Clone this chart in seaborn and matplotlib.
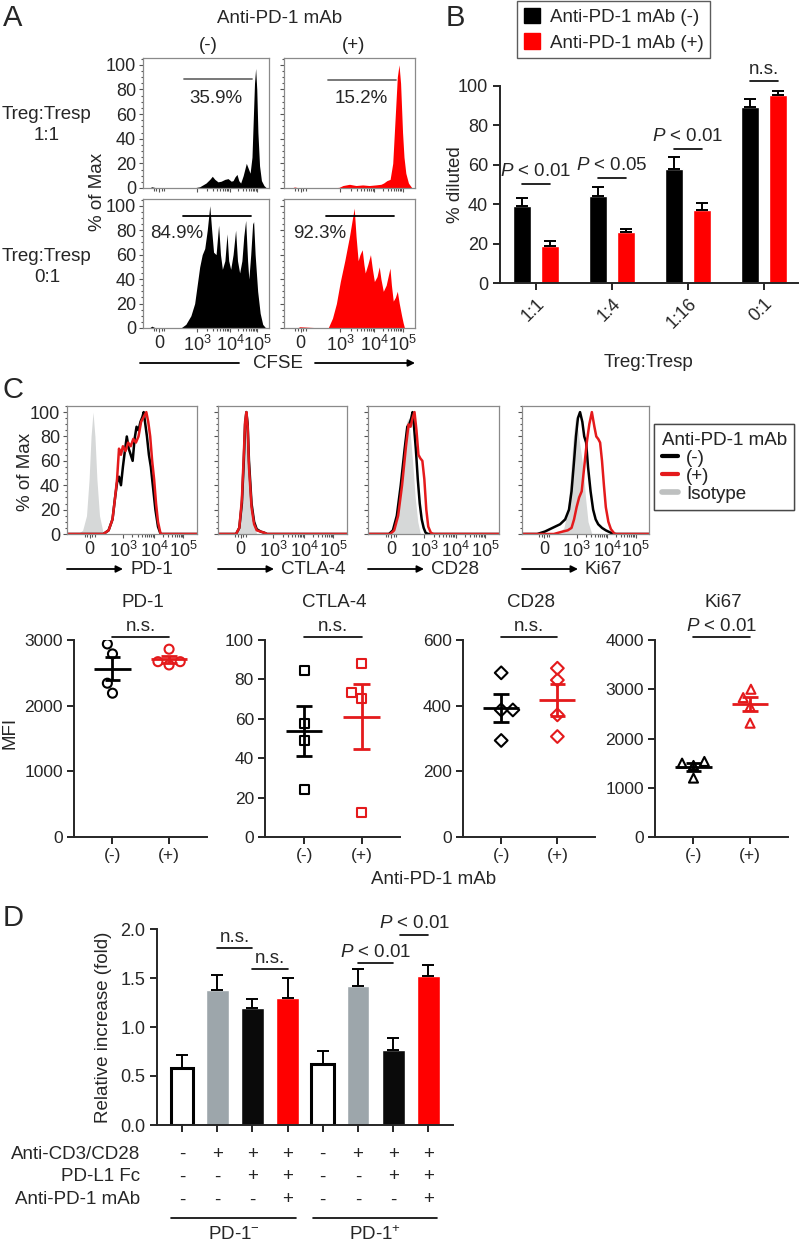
import numpy as np
import pandas as pd
import matplotlib
matplotlib.use("Agg")
import matplotlib.pyplot as plt
import matplotlib.transforms as mtrans
from matplotlib.lines import Line2D
from matplotlib.patches import Patch
from matplotlib.ticker import FixedLocator, MultipleLocator
import seaborn as sns

# ======================= DATA =======================
# Panel A : CFSE histograms (x = channel position 0-100 across the plot, y = % of Max)
a_tl_x = [0, 5, 7, 9, 12, 40, 45, 50, 53, 55, 57, 59.5, 62, 65, 67.5, 70, 71.5, 73, 74.6, 76, 77.5,
          79.5, 82, 83.5, 85, 86.5, 87.5, 88.5, 89.4, 90.3, 91.2, 92.5, 94, 96, 98, 100]
a_tl_y = [0, 0, 1, 0.5, 0, 0, 1, 4, 7, 9.5, 7, 5, 5.5, 7, 7.6, 5.5, 6, 9, 11, 6, 4,
          10, 20, 16, 12, 25, 55, 85, 97, 80, 45, 18, 6, 2, 0, 0]
a_tr_x = [0, 6, 8, 10, 12, 35, 42, 45, 50, 55, 60, 65, 70, 74, 76, 78.6, 81, 83, 85, 86.5, 87.8,
          89, 90.5, 91.6, 93, 95, 97.7, 100]
a_tr_y = [0, 0, 0.8, 0.4, 0, 0, 0.5, 2, 3, 2, 2.5, 2, 2.5, 3, 4, 6, 7, 20, 60, 90, 100,
          85, 45, 25, 12, 4, 0, 0]
a_bl_x = [0, 5, 7, 9, 12, 25, 30, 34, 38, 41, 43, 45, 47, 49, 51, 53, 54.5, 56, 58, 60, 61.5, 63,
          65, 66.7, 68, 69.6, 71.5, 73.5, 75, 76.7, 78.5, 80, 81.5, 83, 84, 85.5, 87, 87.8, 89,
          91, 93, 95, 97, 100]
a_bl_y = [0, 0, 1.5, 0.5, 0, 0, 0, 3, 10, 20, 35, 50, 60, 65, 80, 100, 80, 62, 60, 84, 60, 48,
          55, 77, 55, 48, 60, 80, 55, 45, 55, 75, 88, 55, 40, 60, 85, 87, 60,
          30, 12, 3, 0.5, 0]
a_br_x = [0, 10, 12, 30, 33.7, 37, 40, 43, 46.4, 50, 52, 53.6, 55, 56.6, 58, 59.7, 61, 62, 64, 66,
          67.5, 69, 71, 72.7, 74, 75.8, 78, 80.9, 82, 83.4, 85, 86.5, 88, 89.8, 91, 92, 94, 100]
a_br_y = [0, 0, 1, 0, 0, 8, 20, 38, 55, 75, 88, 98, 75, 55, 60, 64, 52, 45, 52, 60,
          48, 38, 42, 50, 40, 30, 35, 49, 35, 22, 25, 30, 20, 10, 4, 0, 0, 0]
a_gate_pct = ["35.9%", "15.2%", "84.9%", "92.3%"]

# Panel B : % diluted
b_ratios = ["1:1", "1:4", "1:16", "0:1"]
b_treat = ["Anti-PD-1 mAb (-)", "Anti-PD-1 mAb (+)"]
b_minus = [39.2, 44.2, 58.1, 89.5]
b_minus_err = [4.2, 4.6, 6.0, 4.1]
b_plus = [18.6, 25.9, 37.0, 95.4]
b_plus_err = [2.8, 1.7, 3.8, 2.1]
b_sig = [r"$P$ < 0.01", r"$P$ < 0.05", r"$P$ < 0.01", "n.s."]

# Panel C : histograms (channel position 0-100, % of Max)
c_names = ["PD-1", "CTLA-4", "CD28", "Ki67"]
pd1_iso_x = [0, 8, 12, 15, 17, 18.5, 20, 21.5, 23, 25, 28, 100]
pd1_iso_y = [0, 0, 3, 15, 45, 80, 100, 80, 45, 15, 0, 0]
pd1_neg_x = [0, 28, 32, 35, 37, 38.5, 40, 41.5, 43, 44.5, 46, 47.5, 49, 50.5, 52, 53.5, 55, 56.5,
             58, 59, 60, 61.5, 63, 64.5, 66, 68, 70, 72, 100]
pd1_neg_y = [0, 0, 3, 12, 30, 42, 47, 40, 55, 68, 80, 70, 65, 60, 78, 88, 85, 92,
             96, 100, 92, 80, 65, 55, 40, 20, 6, 0, 0]
pd1_pos_x = [0, 28, 32, 35, 37, 38.5, 40, 41.5, 43, 45, 47, 49, 51, 53, 55, 57, 59, 61, 62.5, 64,
             65.5, 67, 68.5, 70, 72, 100]
pd1_pos_y = [0, 0, 3, 12, 30, 45, 70, 65, 72, 68, 75, 72, 78, 75, 80, 92, 96, 100, 92, 80,
             60, 45, 25, 10, 0, 0]
ctla_iso_x = [0, 14, 17, 19, 21, 22, 23, 25, 27, 30, 100]
ctla_iso_y = [0, 0, 10, 40, 85, 95, 85, 40, 10, 0, 0]
ctla_neg_x = [0, 14, 16.5, 18.5, 20, 21, 22, 23, 24, 26, 28, 30, 33, 36, 38, 100]
ctla_neg_y = [0, 0, 5, 25, 60, 90, 100, 90, 60, 25, 10, 4, 2, 1, 0, 0]
ctla_pos_x = [0, 14, 16.5, 18.5, 20, 21, 22, 23, 24, 26, 28, 30, 33, 36, 38, 100]
ctla_pos_y = [0, 0, 5, 28, 65, 92, 100, 88, 55, 22, 8, 3, 2, 1, 0, 0]
cd28_iso_x = [0, 18, 22, 25, 27, 29, 30.5, 32, 34, 36, 38, 40, 100]
cd28_iso_y = [0, 0, 10, 40, 70, 90, 95, 85, 60, 30, 10, 0, 0]
cd28_neg_x = [0, 16, 19, 22, 25, 28, 30, 31.5, 33, 34, 35, 36.5, 38, 39.5, 41, 42.5, 44, 46, 100]
cd28_neg_y = [0, 0, 3, 15, 40, 70, 88, 90, 95, 100, 90, 70, 45, 25, 12, 5, 1, 0, 0]
cd28_pos_x = [0, 17, 20, 23, 26, 29, 31, 32.5, 34, 35.5, 37, 38.5, 40, 41.5, 43, 44.5, 46, 48, 50, 100]
cd28_pos_y = [0, 0, 3, 15, 40, 72, 90, 88, 95, 100, 85, 65, 62, 60, 45, 20, 6, 1, 0, 0]
ki67_iso_x = [0, 28, 33, 36, 38, 40, 42, 44, 46, 48, 50, 52, 55, 100]
ki67_iso_y = [0, 0, 5, 20, 45, 75, 95, 85, 70, 55, 30, 10, 0, 0]
ki67_neg_x = [0, 12, 18, 22, 26, 30, 34, 37, 39, 41, 42.5, 44, 45.7, 47.5, 49, 50.5, 52, 54, 56,
              58, 60, 63, 66, 70, 74, 100]
ki67_neg_y = [0, 0, 2, 4, 6, 8, 12, 20, 35, 60, 80, 95, 100, 92, 80, 75, 55, 35, 20,
              12, 8, 5, 3, 1, 0, 0]
ki67_pos_x = [0, 25, 32, 36, 39, 41, 43, 45, 47, 49, 51, 53, 55, 57, 58.5, 60, 61.5, 63, 64.5, 66,
              68, 70, 73, 100]
ki67_pos_y = [0, 0, 2, 3, 5, 12, 22, 30, 35, 55, 75, 90, 100, 88, 80, 78, 75, 60, 40, 22,
              10, 4, 0, 0]

# Panel C : MFI dot plots
pd1_minus = [2940, 2788, 2342, 2190]
pd1_plus = [2860, 2670, 2620, 2670]
ctla4_minus = [84.5, 57.8, 49.0, 24.0]
ctla4_plus = [88.2, 73.3, 70.3, 12.5]
cd28_minus = [500, 387, 387, 294]
cd28_plus = [514, 478, 372, 306]
ki67_minus = [1500, 1453, 1534, 1196]
ki67_plus = [3000, 2831, 2649, 2311]
dot_groups = ["(-)", "(+)"]
dot_sig = ["n.s.", "n.s.", "n.s.", r"$P$ < 0.01"]

# Panel D : relative increase
d_conds = ["c1", "c2", "c3", "c4", "c5", "c6", "c7", "c8"]
d_vals = [0.585, 1.378, 1.197, 1.296, 0.622, 1.418, 0.762, 1.517]
d_err = [0.129, 0.152, 0.089, 0.201, 0.136, 0.170, 0.129, 0.119]
d_cd3 = ["-", "+", "+", "+", "-", "+", "+", "+"]
d_pdl1 = ["-", "-", "+", "+", "-", "-", "+", "+"]
d_antipd1 = ["-", "-", "-", "+", "-", "-", "-", "+"]
d_rows = ["Anti-CD3/CD28", "PD-L1 Fc", "Anti-PD-1 mAb"]
d_groups = ["PD-1$^{-}$", "PD-1$^{+}$"]

# ======================= STYLE =======================
sns.set_style("ticks")
plt.rcParams["font.family"] = ["Liberation Sans", "DejaVu Sans"]
plt.rcParams["mathtext.fontset"] = "custom"
plt.rcParams["mathtext.rm"] = "Liberation Sans"
plt.rcParams["mathtext.it"] = "Liberation Sans:italic"
plt.rcParams["mathtext.bf"] = "Liberation Sans:bold"
plt.rcParams["axes.linewidth"] = 1.4

BLACK = "#000000"
RED = "#FF0000"
RED_C = "#E41A1C"
GRAY_FILL = "#D6D8D8"
GRAY_BAR = "#9DA6AB"
FS = 13.5
TFS = 13

W, H = 802, 1249
fig = plt.figure(figsize=(W / 100, H / 100), dpi=100)


def add_ax(x0, y0, x1, y1):
    return fig.add_axes([x0 / W, 1 - y1 / H, (x1 - x0) / W, (y1 - y0) / H])


ov = fig.add_axes([0, 0, 1, 1])
ov.set_xlim(0, W)
ov.set_ylim(H, 0)
ov.axis("off")


def txt(x, y, s, **kw):
    kw.setdefault("fontsize", FS)
    kw.setdefault("ha", "center")
    kw.setdefault("va", "center")
    ov.text(x, y, s, **kw)


def arrow(x0, x1, y):
    ov.annotate("", xy=(x1, y), xytext=(x0, y),
                arrowprops=dict(arrowstyle="-|>", lw=1.3, color="black",
                                mutation_scale=10, shrinkA=0, shrinkB=0))


flow_labels = ["0", "$10^3$", "$10^4$", "$10^5$"]


def flow_axes(rect, xt, ylab, xlab):
    ax = add_ax(*rect)
    ax.set_xlim(0, 100)
    ax.set_ylim(0, 105.5)
    for s in ax.spines.values():
        s.set_visible(True)
        s.set_color("#8a8a8a")
        s.set_linewidth(0.9)
    ax.set_xticks(xt)
    ax.set_xticklabels(flow_labels if xlab else [])
    minors = [xt[0] - 4, xt[0] - 2, xt[0] + 2, xt[0] + 4]
    for a, b in [(xt[1], xt[2]), (xt[2], xt[3])]:
        minors += [a + (b - a) * np.log10(k) for k in range(2, 10)]
    ax.xaxis.set_minor_locator(FixedLocator(minors))
    ax.set_yticks(range(0, 101, 20))
    if not ylab:
        ax.set_yticklabels([])
    ax.yaxis.set_minor_locator(MultipleLocator(5))
    ax.tick_params(which="both", direction="out", length=3, width=0.8, color="#555555",
                   labelsize=TFS, pad=2)
    ax.tick_params(which="minor", length=1.8)
    return ax


# ======================= PANEL A =======================
a_xt = [12.7, 43, 69, 90.5]
a_rects = [(143, 58, 269, 188), (284, 58, 415, 188), (143, 199, 269, 328), (284, 199, 415, 328)]
a_data = [(a_tl_x, a_tl_y, BLACK), (a_tr_x, a_tr_y, RED), (a_bl_x, a_bl_y, BLACK), (a_br_x, a_br_y, RED)]
a_gate = [(32.5, 86.5, 88.6, 58, 72.4, "#6d6d6d"), (33.6, 85.5, 87.8, 58.8, 72.4, "#6d6d6d"),
          (31.7, 85.7, 91.8, 27, 77, BLACK), (32, 84, 91.8, 27.5, 77, BLACK)]
for i, (rect, (hx, hy, col), g) in enumerate(zip(a_rects, a_data, a_gate)):
    ax = flow_axes(rect, a_xt, ylab=(i % 2 == 0), xlab=(i >= 2))
    ax.fill_between(hx, hy, 0, color=col, lw=0)
    ax.plot([g[0], g[1]], [g[2], g[2]], color=g[5], lw=1.3)
    ax.text(g[3], g[4], a_gate_pct[i], fontsize=FS, ha="center", va="center")

txt(13, 18, "A", fontsize=21)
txt(280, 18, "Anti-PD-1 mAb")
txt(208, 45, "(-)")
txt(354, 45, "(+)")
txt(47, 125, "Treg:Tresp\n1:1", linespacing=1.25)
txt(47, 267, "Treg:Tresp\n0:1", linespacing=1.25)
txt(97, 192, "% of Max", rotation=90)
txt(278, 363, "CFSE")
ov.plot([140, 239], [363, 363], color="black", lw=1.3)
arrow(315, 415, 363)

# ======================= PANEL B =======================
axB = add_ax(500, 86, 798, 283)
dfB = pd.DataFrame({
    "ratio": b_ratios * 2,
    "treat": [b_treat[0]] * 4 + [b_treat[1]] * 4,
    "val": b_minus + b_plus,
})
sns.barplot(data=dfB, x="ratio", y="val", hue="treat", order=b_ratios, hue_order=b_treat,
            palette=[BLACK, RED], width=0.74, gap=0.35, errorbar=None, legend=False,
            saturation=1, ax=axB)
bar_x = {}
for cont, errs, col in zip(axB.containers, [b_minus_err, b_plus_err], [BLACK, RED]):
    xs = [b.get_x() + b.get_width() / 2 for b in cont]
    hs = [b.get_height() for b in cont]
    bar_x[col] = xs
    axB.errorbar(xs, hs, yerr=[np.zeros(len(errs)), errs], fmt="none", ecolor="black",
                 elinewidth=1.4, capsize=4.5, capthick=1.4, zorder=3)
b_line_y = [50.3, 53.3, 68.0, 102.5]
b_text_y = [56.5, 59.8, 74.5, 108.5]
for i in range(4):
    x0, x1 = bar_x[BLACK][i], bar_x[RED][i]
    axB.plot([x0, x1], [b_line_y[i]] * 2, color="black", lw=1.2, clip_on=False)
    axB.text((x0 + x1) / 2, b_text_y[i], b_sig[i], fontsize=FS, ha="center", va="center",
             clip_on=False)
axB.set_xlim(-0.47, 3.45)
axB.set_ylim(0, 100)
axB.set_yticks(range(0, 101, 20))
axB.set_xlabel("")
axB.set_ylabel("")
axB.set_xticks(range(4))
axB.set_xticklabels(b_ratios, rotation=45, ha="right", rotation_mode="anchor")
axB.tick_params(labelsize=TFS, width=1.4, length=5)
sns.despine(ax=axB)
txt(455, 18, "B", fontsize=21)
txt(455, 185, "% diluted", rotation=90)
txt(649, 362, "Treg:Tresp")
legB = ov.legend(handles=[Patch(color=BLACK), Patch(color=RED)], labels=b_treat,
                 loc="upper left", bbox_to_anchor=(517, 1), bbox_transform=ov.transData,
                 frameon=True, fancybox=False, edgecolor="#333333", fontsize=FS,
                 handlelength=0.9, handleheight=0.9, handletextpad=0.5, borderpad=0.35,
                 labelspacing=0.4, borderaxespad=0)
legB.get_frame().set_linewidth(1.0)
ov.add_artist(legB)

# ======================= PANEL C histograms =======================
c_xt = [17.5, 43, 67, 89.5]
c_rects = [(67, 406, 197, 534), (218, 406, 347, 534), (368, 406, 499, 534), (522, 406, 649, 534)]
c_hist = [
    (pd1_iso_x, pd1_iso_y, pd1_neg_x, pd1_neg_y, pd1_pos_x, pd1_pos_y),
    (ctla_iso_x, ctla_iso_y, ctla_neg_x, ctla_neg_y, ctla_pos_x, ctla_pos_y),
    (cd28_iso_x, cd28_iso_y, cd28_neg_x, cd28_neg_y, cd28_pos_x, cd28_pos_y),
    (ki67_iso_x, ki67_iso_y, ki67_neg_x, ki67_neg_y, ki67_pos_x, ki67_pos_y),
]
for i, (rect, h) in enumerate(zip(c_rects, c_hist)):
    ax = flow_axes(rect, c_xt, ylab=(i == 0), xlab=True)
    ax.set_ylim(0, 105)
    ax.fill_between(h[0], h[1], 0, color=GRAY_FILL, lw=0)
    ax.plot(h[2], h[3], color=BLACK, lw=1.8)
    ax.plot(h[4], h[5], color=RED_C, lw=1.8)
    x0 = rect[0]
    arrow(x0, x0 + 56, 569)
    txt(x0 + 63, 569, c_names[i], ha="left")

txt(13, 390, "C", fontsize=21)
txt(25, 472, "% of Max", rotation=90)
legC = ov.legend(handles=[Line2D([], [], color=BLACK, lw=3), Line2D([], [], color=RED_C, lw=3),
                          Line2D([], [], color="#BEC0C0", lw=4)],
                 labels=["(-)", "(+)", "Isotype"], title="Anti-PD-1 mAb",
                 loc="upper left", bbox_to_anchor=(654, 424), bbox_transform=ov.transData,
                 frameon=True, fancybox=False, edgecolor="#333333", fontsize=FS,
                 title_fontsize=FS, handlelength=0.9, handletextpad=0.4, borderpad=0.4,
                 labelspacing=0.05, borderaxespad=0, alignment="left")
legC.get_frame().set_linewidth(1.0)
ov.add_artist(legC)

# ======================= PANEL C dot plots =======================
dot_rects = [(74, 640, 207, 837), (265, 640, 400, 837), (463, 640, 595, 837), (655, 640, 788, 837)]
dot_data = [(pd1_minus, pd1_plus), (ctla4_minus, ctla4_plus), (cd28_minus, cd28_plus),
            (ki67_minus, ki67_plus)]
dot_markers = ["o", "s", "D", "^"]
dot_ymax = [3000, 100, 600, 4000]
dot_ystep = [1000, 20, 200, 1000]
for i, rect in enumerate(dot_rects):
    ax = add_ax(*rect)
    mn, pl = dot_data[i]
    df = pd.DataFrame({"grp": [dot_groups[0]] * len(mn) + [dot_groups[1]] * len(pl),
                       "val": mn + pl})
    sns.swarmplot(data=df, x="grp", y="val", hue="grp", order=dot_groups, hue_order=dot_groups,
                  palette=[BLACK, RED_C], marker=dot_markers[i], size=6.5, linewidth=1.5,
                  legend=False, ax=ax)
    for c in ax.collections:
        fc = np.array(c.get_facecolor())
        c.set_edgecolor(fc)
        c.set_facecolor("none")
        c.set_linewidth(1.5)
    for j, (vals, col) in enumerate([(mn, BLACK), (pl, RED_C)]):
        m = np.mean(vals)
        s = np.std(vals, ddof=1) / np.sqrt(len(vals))
        ax.hlines(m, j - 0.32, j + 0.32, color=col, lw=2, zorder=5)
        ax.vlines(j, m - s, m + s, color=col, lw=2, zorder=5)
        ax.hlines([m - s, m + s], j - 0.14, j + 0.14, color=col, lw=2, zorder=5)
    ymax = dot_ymax[i]
    ax.set_ylim(0, ymax)
    ax.set_yticks(np.arange(0, ymax + 1, dot_ystep[i]))
    ax.set_xlim(-0.68, 1.67)
    ax.set_xticks([0, 1])
    ax.set_xticklabels(dot_groups)
    ax.set_xlabel("")
    ax.set_ylabel("")
    ax.tick_params(labelsize=12.5, width=1.4, length=5, pad=3)
    sns.despine(ax=ax)
    ax.plot([0, 1], [ymax * 1.015] * 2, color="black", lw=1.2, clip_on=False)
    ax.text(0.5, ymax * 1.066, dot_sig[i], fontsize=FS, ha="center", va="center", clip_on=False)
    txt((rect[0] + rect[2]) / 2 + 2, 602, c_names[i])

txt(10, 733, "MFI", rotation=90)
txt(434, 879, "Anti-PD-1 mAb")

# ======================= PANEL D =======================
axD = add_ax(157, 929, 453, 1125)
dfD = pd.DataFrame({"cond": d_conds, "val": d_vals})
d_colors = ["#FFFFFF", GRAY_BAR, "#0A0A0A", RED, "#FFFFFF", GRAY_BAR, "#0A0A0A", RED]
sns.barplot(data=dfD, x="cond", y="val", hue="cond", order=d_conds, hue_order=d_conds,
            palette=d_colors, width=0.65, errorbar=None, legend=False, saturation=1, ax=axD)
dx = []
for p in axD.patches:
    dx.append(p.get_x() + p.get_width() / 2)
    if tuple(p.get_facecolor()[:3]) == (1.0, 1.0, 1.0):
        p.set_edgecolor("black")
        p.set_linewidth(2.2)
dx = sorted(dx)
axD.errorbar(dx, d_vals, yerr=[np.zeros(len(d_err)), d_err], fmt="none", ecolor="black",
             elinewidth=1.4, capsize=4.5, capthick=1.4, zorder=3)
axD.set_xlim(-0.71, 7.7)
axD.set_ylim(0, 2.0)
axD.set_yticks([0, 0.5, 1.0, 1.5, 2.0])
axD.set_yticklabels(["0.0", "0.5", "1.0", "1.5", "2.0"])
axD.set_xticks(range(8))
axD.set_xticklabels([])
axD.set_xlabel("")
axD.set_ylabel("")
axD.tick_params(labelsize=TFS, width=1.4, length=5)
sns.despine(ax=axD)
d_sig = [(1, 2, 1.806, 1.918, "n.s."), (2, 3, 1.592, 1.704, "n.s."),
         (5, 6, 1.653, 1.765, r"$P$ < 0.01"), (6.2, 7, 1.939, 2.06, r"$P$ < 0.01")]
for a, b, ly, ty, s in d_sig:
    axD.plot([a, b], [ly, ly], color="black", lw=1.2, clip_on=False)
    axD.text((a + b) / 2, ty, s, fontsize=FS, ha="center", va="center", clip_on=False)
tD = mtrans.blended_transform_factory(axD.transData, axD.transAxes)
for r, (lab, row) in enumerate(zip(d_rows, [d_cd3, d_pdl1, d_antipd1])):
    yy = -0.148 - 0.117 * r
    axD.text(-1.19, yy, lab, transform=tD, fontsize=FS, ha="right", va="center", clip_on=False)
    for k, s in enumerate(row):
        axD.text(k, yy, s, transform=tD, fontsize=FS, ha="center", va="center", clip_on=False)
for g, (a, b) in enumerate([(-0.3, 3.25), (3.72, 7.24)]):
    axD.plot([a, b], [-0.474, -0.474], transform=tD, color="black", lw=1.2, clip_on=False)
    axD.text((a + b) / 2, -0.561, d_groups[g], transform=tD, fontsize=FS, ha="center",
             va="center", clip_on=False)
txt(13, 918, "D", fontsize=21)
txt(103, 1027, "Relative increase (fold)", rotation=90)

fig.savefig("out.png", dpi=100)
